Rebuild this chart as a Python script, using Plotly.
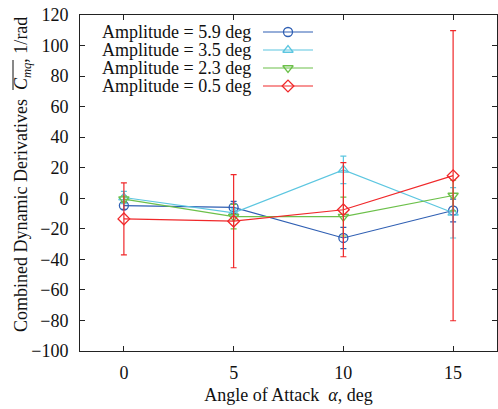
import plotly.graph_objects as go

# Angle of attack, deg
alpha = [0, 5, 10, 15]

# Combined dynamic derivative Cmq (1/rad) and its uncertainty per oscillation amplitude
amp_labels = ["Amplitude = 5.9 deg", "Amplitude = 3.5 deg",
              "Amplitude = 2.3 deg", "Amplitude = 0.5 deg"]
cmq_59 = [-4.8, -6.0, -26.0, -8.0]
err_59 = [2.5, 4.0, 7.0, 7.5]
cmq_35 = [0.5, -9.5, 18.6, -9.5]
err_35 = [4.0, 2.5, 9.0, 16.5]
cmq_23 = [-0.5, -12.0, -12.0, 1.8]
err_23 = [2.0, 8.0, 12.7, 10.0]
cmq_05 = [-13.5, -15.0, -7.5, 14.8]
err_05 = [23.6, 30.5, 30.8, 95.0]

series = [
    (amp_labels[0], cmq_59, err_59, "#2f5fb3", "circle-open"),
    (amp_labels[1], cmq_35, err_35, "#5cc6e0", "triangle-up-open"),
    (amp_labels[2], cmq_23, err_23, "#6cc04a", "triangle-down-open"),
    (amp_labels[3], cmq_05, err_05, "#f0282a", "diamond-open"),
]

x_ticks = [0, 5, 10, 15]
y_ticks = list(range(-100, 121, 20))

W, H = 498, 409
L, R, T, B = 80, 1, 15, 58
PW, PH = W - L - R, H - T - B

FONT = "Liberation Serif"
fig = go.Figure()

for name, vals, errs, color, sym in series:
    fig.add_trace(go.Scatter(
        x=alpha, y=vals, name=name, mode="lines+markers",
        line=dict(color=color, width=1.2),
        marker=dict(symbol=sym, size=9, color=color, line=dict(width=1.3, color=color)),
        error_y=dict(type="data", array=errs, visible=True, color=color,
                     thickness=1.2, width=3),
        showlegend=False,
    ))

# Key drawn in pixel space of an overlay axis: label on the left, sample on the right
key_rows = [32, 50, 68, 86]
for (name, vals, errs, color, sym), ry in zip(series, key_rows):
    fig.add_trace(go.Scatter(
        x=[263, 313], y=[ry, ry], mode="lines", xaxis="x2", yaxis="y2",
        line=dict(color=color, width=1.2), showlegend=False, hoverinfo="skip"))
    fig.add_trace(go.Scatter(
        x=[288], y=[ry], mode="markers", xaxis="x2", yaxis="y2",
        marker=dict(symbol=sym, size=9, color=color, line=dict(width=1.3, color=color)),
        showlegend=False, hoverinfo="skip"))
    fig.add_annotation(x=(253 - L) / PW, y=1 - (ry - T) / PH, xref="paper", yref="paper",
                       text=name, showarrow=False, xanchor="right", yanchor="middle",
                       font=dict(family=FONT, size=18, color="#111"))

axis_common = dict(showgrid=False, zeroline=False, showline=True, linecolor="#222",
                   linewidth=1, mirror="ticks", ticks="inside", ticklen=5,
                   tickcolor="#222", tickfont=dict(family=FONT, size=18, color="#111"))

fig.update_layout(
    width=W, height=H,
    margin=dict(l=L, r=R, t=T, b=B),
    paper_bgcolor="white", plot_bgcolor="white",
    xaxis=dict(range=[-2, 17], tickvals=x_ticks, ticklabelstandoff=5, **axis_common,
               title=dict(text="Angle of Attack  <i>α</i>, deg",
                          font=dict(family=FONT, size=18, color="#111"), standoff=6)),
    yaxis=dict(range=[-100, 120], tickvals=y_ticks, ticklabelstandoff=7, **axis_common),
    xaxis2=dict(range=[L, W - R], overlaying="x", visible=False, fixedrange=True),
    yaxis2=dict(range=[H - B, T], overlaying="y", visible=False, fixedrange=True),
)

# Rotated y-axis title with the overbar on Cmq
fig.add_annotation(
    x=(22 - L) / PW, y=(H - B - 175) / PH, xref="paper", yref="paper",
    text="Combined Dynamic Derivatives  <i>C</i><sub><i>mq</i></sub>, 1/rad",
    textangle=-90, showarrow=False, xanchor="center", yanchor="middle",
    font=dict(family=FONT, size=18, color="#111"))
fig.add_shape(type="line", xref="paper", yref="paper",
              x0=(13 - L) / PW, x1=(13 - L) / PW,
              y0=(H - B - 90) / PH, y1=(H - B - 60) / PH,
              line=dict(color="#111", width=1))

fig.write_html("out.html")
